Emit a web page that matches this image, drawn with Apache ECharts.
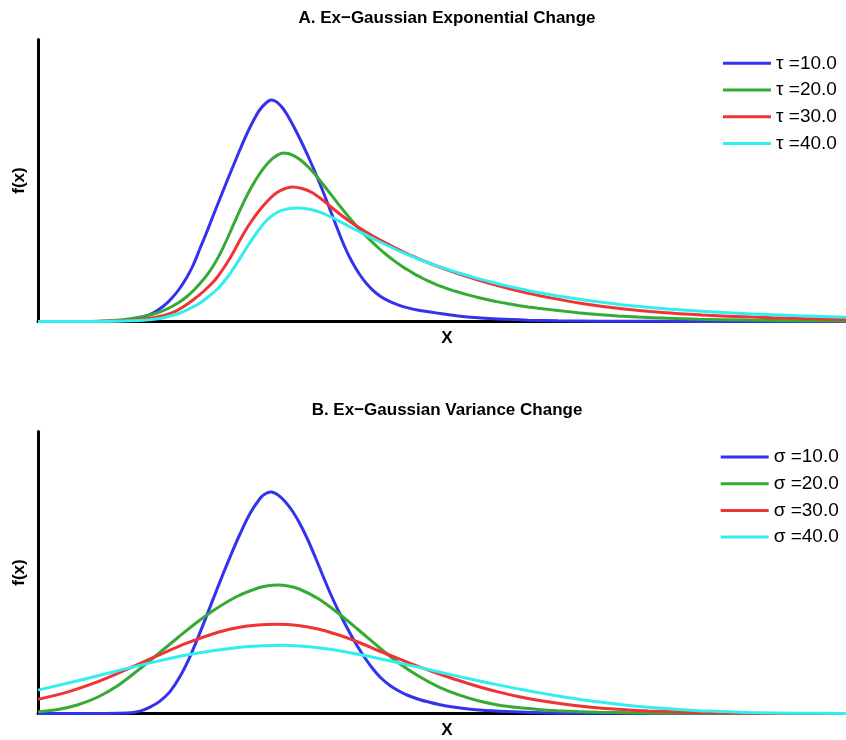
<!DOCTYPE html>
<html>
<head>
<meta charset="utf-8">
<script src="https://cdn.jsdelivr.net/npm/echarts@6/dist/echarts.min.js"></script>
<style>
  html, body { margin: 0; padding: 0; background: #fff; }
  #chart { width: 846px; height: 740px; }
</style>
</head>
<body>
<div id="chart"></div>
<script>
// Ex-Gaussian density curves, x in arbitrary units, f(x) scaled by 1000.

// Panel A: exponential component (tau) varies
const tau10 = [[0,0],[26,0],[38.5,0.05],[46,0.17],[52.5,0.45],[57.5,0.85],[62.5,1.5],[67,2.35],[71,3.35],[74.5,4.45],[77.5,5.6],[81,7.3],[84.5,9.0],[87.5,10.55],[91,12.3],[94.5,14.05],[98,15.75],[101,17.2],[104.5,18.8],[108,20.2],[111,21.2],[114,21.85],[116.5,22.15],[118.5,22.05],[120.5,21.75],[122.5,21.3],[124.5,20.7],[126.5,20.0],[128.5,19.25],[131,18.25],[133.5,17.2],[136,16.1],[138.5,14.95],[141,13.75],[143.5,12.5],[146,11.2],[148.5,9.9],[151,8.6],[153.5,7.4],[156,6.35],[158.5,5.45],[161,4.65],[164,3.85],[167.5,3.12],[171,2.55],[175,2.08],[180,1.67],[185,1.36],[191,1.1],[201,0.8],[210,0.56],[220,0.37],[230,0.24],[245,0.13],[260,0.07],[281,0.03],[331,0.01],[404,0]];
const tau20 = [[0,0],[26,0.01],[41,0.15],[52.5,0.5],[59.5,0.85],[64.5,1.25],[70,1.85],[74.5,2.5],[78.5,3.25],[82.5,4.15],[85,4.79],[87.5,5.53],[90,6.39],[92.5,7.37],[95,8.45],[97.5,9.58],[100,10.71],[102.5,11.79],[105,12.8],[107.5,13.71],[110,14.52],[112.5,15.23],[115,15.84],[117.5,16.33],[120,16.67],[122.5,16.85],[125,16.8],[127.5,16.62],[130,16.33],[132.5,15.95],[135,15.48],[137.5,14.94],[140,14.35],[142.5,13.72],[145,13.08],[147.5,12.43],[150,11.79],[152.5,11.16],[155,10.55],[157.5,9.96],[160,9.4],[162.5,8.86],[165,8.35],[167.5,7.86],[170,7.4],[172.5,6.96],[175,6.55],[177.5,6.16],[180,5.8],[182.5,5.46],[185,5.14],[187.5,4.84],[190,4.56],[192.5,4.3],[195,4.06],[197.5,3.83],[200,3.62],[205,3.27],[210,2.95],[215,2.66],[220,2.4],[225,2.17],[230,1.96],[235,1.78],[240,1.61],[245,1.46],[250,1.33],[260,1.1],[270,0.88],[280,0.7],[290,0.55],[300,0.44],[315,0.32],[330,0.23],[355,0.14],[380,0.08],[404,0.05]];
const tau30 = [[0,0],[31,0.02],[46,0.12],[56,0.32],[62,0.55],[67.5,0.9],[72.5,1.45],[77.5,2.15],[83,3.05],[88.5,4.15],[91.5,4.95],[94.5,5.85],[97.5,6.85],[101,8.15],[104.5,9.35],[107,10.1],[109.5,10.8],[112.5,11.55],[116,12.3],[119.5,12.9],[123,13.25],[127,13.45],[132,13.3],[137,12.9],[142,12.2],[147,11.375],[152,10.575],[157,9.85],[162,9.2],[167,8.6],[172,8.05],[177,7.525],[187,6.565],[197,5.725],[207,4.995],[217,4.345],[227,3.745],[242,2.965],[257,2.335],[272,1.81],[292,1.27],[312,0.89],[332,0.65],[357,0.44],[382,0.29],[404,0.2]];
const tau40 = [[0,0],[31,0.01],[51,0.1],[61,0.3],[66,0.55],[71,0.85],[76,1.3],[81,1.85],[85,2.45],[90,3.3],[95,4.5],[100,6.0],[105,7.6],[110,9.05],[115,10.25],[120,10.95],[125,11.28],[130,11.35],[135,11.25],[140,11.0],[145,10.6],[150,10.1],[155,9.575],[160,9.05],[165,8.55],[170,8.05],[175,7.575],[180,7.1],[185,6.675],[190,6.25],[195,5.885],[200,5.52],[205,5.195],[210,4.87],[215,4.58],[220,4.29],[225,4.03],[230,3.77],[235,3.54],[240,3.31],[245,3.105],[250,2.9],[260,2.55],[270,2.24],[280,1.97],[290,1.73],[300,1.52],[315,1.26],[330,1.05],[355,0.78],[380,0.58],[404,0.43]];

// Panel B: Gaussian component (sigma) varies
const sigma10 = [[0,0],[31,0.01],[44.5,0.04],[51,0.24],[56,0.64],[61,1.24],[66,2.19],[71,3.69],[76,5.69],[81,8.09],[86,10.64],[91,13.19],[96,15.64],[101,17.95],[106,20.0],[111,21.5],[113.5,21.95],[116.5,22.14],[120,21.84],[123.5,21.2],[127,20.3],[130.5,19.15],[134.5,17.55],[138.5,15.7],[142.5,13.75],[146.5,11.85],[151,9.95],[155,8.4],[159.5,6.8],[163.5,5.55],[167.5,4.45],[171.5,3.55],[176,2.8],[180,2.3],[184.5,1.85],[191,1.38],[201,0.88],[207.5,0.64],[217.5,0.39],[231,0.22],[256,0.06],[281,0.02],[404,0]];
const sigma20 = [[0,0.17],[10,0.4],[20,0.88],[30,1.65],[40,2.8],[50,4.32],[60,5.95],[70,7.6],[80,9.2],[90,10.6],[100,11.75],[110,12.55],[115,12.78],[120,12.84],[125,12.75],[130,12.5],[140,11.5],[150,10.05],[160,8.4],[170,6.7],[180,5.1],[190,3.77],[200,2.69],[210,1.88],[220,1.28],[230,0.86],[240,0.59],[250,0.41],[260,0.28],[270,0.19],[280,0.13],[300,0.06],[330,0.015],[404,0]];
const sigma30 = [[0,1.41],[15,2.16],[30,3.18],[45,4.455],[60,5.805],[75,7.08],[90,8.13],[100,8.61],[110,8.86],[120,8.92],[130,8.8],[140,8.45],[150,7.87],[160,7.15],[170,6.3],[180,5.5],[190,4.72],[200,4.0],[210,3.32],[220,2.7],[230,2.16],[240,1.7],[250,1.32],[260,1.02],[275,0.66],[290,0.42],[305,0.26],[330,0.1],[355,0.03],[404,0]];
const sigma40 = [[0,2.34],[20,3.28],[40,4.28],[60,5.24],[80,6.04],[100,6.6],[112,6.77],[122,6.82],[132,6.72],[142,6.52],[152,6.23],[162,5.85],[172,5.43],[185,4.86],[200,4.18],[215,3.5],[230,2.86],[245,2.28],[260,1.76],[275,1.3],[290,0.93],[305,0.63],[320,0.41],[335,0.24],[355,0.1],[380,0.035],[404,0.01]];

const tauLabels = ['τ =10.0', 'τ =20.0', 'τ =30.0', 'τ =40.0'];
const sigmaLabels = ['σ =10.0', 'σ =20.0', 'σ =30.0', 'σ =40.0'];
const panelTitles = ['A. Ex\u2212Gaussian Exponential Change', 'B. Ex\u2212Gaussian Variance Change'];
const xName = 'X';
const yName = 'f(x)';

const colors = ['#3333ee', '#35aa35', '#ee3434', '#33eeee'];
const font = '"Liberation Sans", Helvetica, Arial, sans-serif';

const panelA = [tau10, tau20, tau30, tau40];
const panelB = [sigma10, sigma20, sigma30, sigma40];

function axisPair(gridIndex) {
  const line = { show: true, onZero: false, lineStyle: { color: '#000', width: 3 } };
  const nameStyle = { fontFamily: font, fontWeight: 'bold', fontSize: 17, color: '#000' };
  return {
    x: {
      type: 'value', gridIndex, min: 0, max: 404,
      axisLine: line, axisTick: { show: false }, axisLabel: { show: false }, splitLine: { show: false },
      name: xName, nameLocation: 'middle', nameGap: 8,
      nameTextStyle: Object.assign({ padding: [0, 0, 0, 10] }, nameStyle)
    },
    y: {
      type: 'value', gridIndex, min: 0, max: 28.2,
      axisLine: line, axisTick: { show: false }, axisLabel: { show: false }, splitLine: { show: false },
      name: yName, nameLocation: 'middle', nameGap: 10, nameTextStyle: nameStyle
    }
  };
}

const axA = axisPair(0), axB = axisPair(1);

function makeSeries(sets, labels, idx) {
  return sets.map((d, i) => ({
    name: labels[i], type: 'line', data: d,
    xAxisIndex: idx, yAxisIndex: idx,
    showSymbol: false, smooth: 0.3, clip: false,
    lineStyle: { color: colors[i], width: 3 },
    itemStyle: { color: colors[i] },
    z: 3 + i
  }));
}

function makeLegend(labels, left, top) {
  return {
    data: labels, orient: 'vertical', left, top,
    icon: 'rect', itemWidth: 48, itemHeight: 3, itemGap: 6.7,
    padding: 0, selectedMode: false,
    textStyle: { fontFamily: font, fontSize: 19, color: '#000', lineHeight: 20 }
  };
}

const chart = echarts.init(document.getElementById('chart'), null, { renderer: 'canvas' });
chart.setOption({
  animation: false,
  backgroundColor: '#fff',
  title: [
    { text: panelTitles[0], left: 442, top: 5, textAlign: 'center',
      textStyle: { fontFamily: font, fontWeight: 'bold', fontSize: 17, color: '#000' } },
    { text: panelTitles[1], left: 442, top: 397, textAlign: 'center',
      textStyle: { fontFamily: font, fontWeight: 'bold', fontSize: 17, color: '#000' } }
  ],
  grid: [
    { left: 38, width: 808, top: 39.5, height: 282, containLabel: false, outerBoundsMode: 'none' },
    { left: 38, width: 808, top: 431.5, height: 282, containLabel: false, outerBoundsMode: 'none' }
  ],
  xAxis: [axA.x, axB.x],
  yAxis: [axA.y, axB.y],
  legend: [makeLegend(tauLabels, 723, 53.3), makeLegend(sigmaLabels, 720.7, 447)],
  series: makeSeries(panelA, tauLabels, 0).concat(makeSeries(panelB, sigmaLabels, 1))
});
</script>
</body>
</html>
